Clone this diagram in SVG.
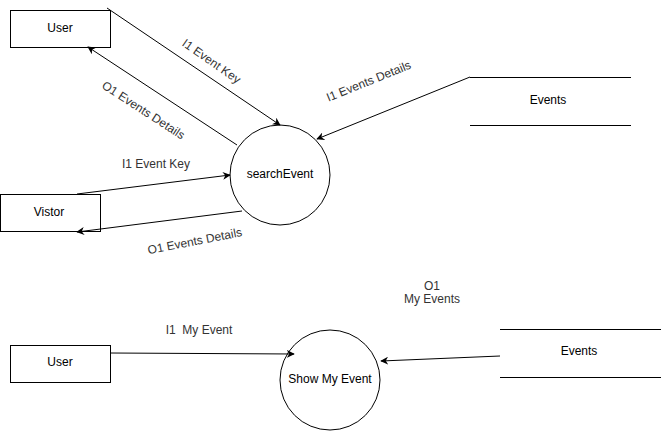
<svg xmlns="http://www.w3.org/2000/svg" width="661" height="431" viewBox="0 0 661 431">
<style>
.box{fill:#fff;stroke:#000;stroke-width:1}
.proc{fill:#fff;stroke:#000;stroke-width:1}
.store{stroke:#000;stroke-width:1}
.edge{fill:none;stroke:#000;stroke-width:1;marker-end:url(#arr)}
text{font-family:"Liberation Sans",Arial,sans-serif;font-size:12px;fill:#000;text-anchor:middle;dominant-baseline:middle}
.lbl{fill:#333}
</style>
<defs>
<marker id="arr" viewBox="0 0 10 10" refX="9" refY="5" markerWidth="8" markerHeight="8" orient="auto" markerUnits="userSpaceOnUse">
<path d="M0,0 L10,5 L0,10 L3,5 Z" fill="#000"/>
</marker>
</defs>
<rect width="661" height="431" fill="#fff"/>
<g id="user1">
<rect class="box" x="10.5" y="10.5" width="100" height="37"/>
<text x="60" y="29">User</text>
</g>
<g id="vistor">
<rect class="box" x="0.5" y="194.5" width="100" height="37"/>
<text x="49" y="213">Vistor</text>
</g>
<g id="searchEvent">
<circle class="proc" cx="280" cy="175" r="50"/>
<text x="280" y="175">searchEvent</text>
</g>
<g id="events1">
<line class="store" x1="470" y1="77.5" x2="631" y2="77.5"/>
<line class="store" x1="470" y1="125.5" x2="631" y2="125.5"/>
<text x="548" y="101">Events</text>
</g>
<g id="user2">
<rect class="box" x="10.5" y="345.5" width="100" height="37"/>
<text x="60" y="363">User</text>
</g>
<g id="showMyEvent">
<circle class="proc" cx="330" cy="380" r="50"/>
<text x="330" y="380">Show My Event</text>
</g>
<g id="events2">
<line class="store" x1="500" y1="329.5" x2="661" y2="329.5"/>
<line class="store" x1="500" y1="377.5" x2="661" y2="377.5"/>
<text x="579" y="352">Events</text>
</g>
<g id="connectors">
<line class="edge" x1="107" y1="8" x2="280" y2="125"/>
<line class="edge" x1="237" y1="145" x2="88" y2="47"/>
<line class="edge" x1="77" y1="194" x2="230" y2="175"/>
<line class="edge" x1="242" y1="211" x2="77" y2="232"/>
<line class="edge" x1="470" y1="77" x2="317" y2="139"/>
<line class="edge" x1="110" y1="353" x2="294" y2="354"/>
<line class="edge" x1="500" y1="356" x2="381" y2="361"/>
<text class="lbl" transform="translate(211,62) rotate(35)">I1 Event Key</text>
<text class="lbl" transform="translate(143,111) rotate(33)">O1 Events Details</text>
<text class="lbl" x="156" y="165">I1 Event Key</text>
<text class="lbl" transform="translate(195,242) rotate(-11)">O1 Events Details</text>
<text class="lbl" transform="translate(369,82) rotate(-22)">I1 Events Details</text>
<text class="lbl" x="199" y="331" xml:space="preserve">I1  My Event</text>
<text class="lbl" x="432" y="287">O1</text>
<text class="lbl" x="432" y="300">My Events</text>
</g>
</svg>
